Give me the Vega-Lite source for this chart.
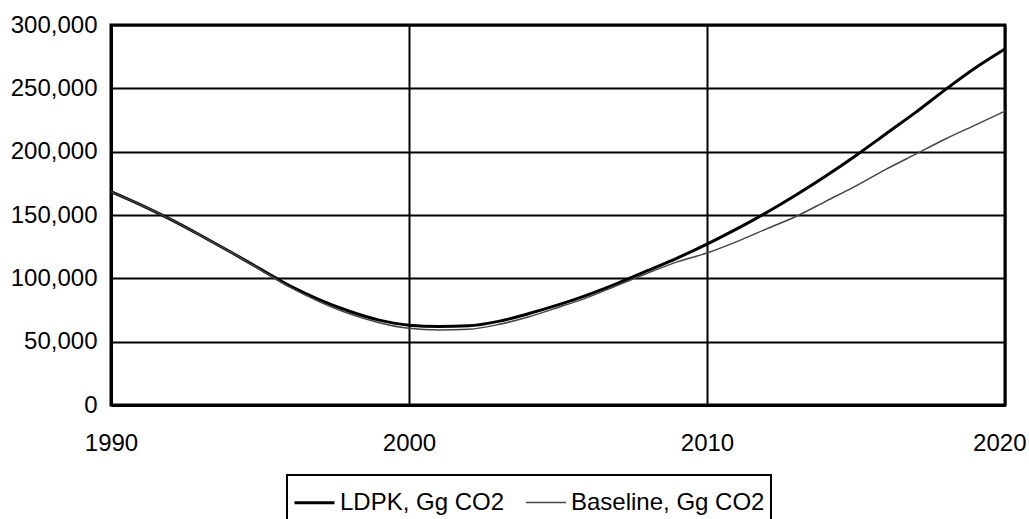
{
  "$schema": "https://vega.github.io/schema/vega-lite/v6.json",
  "width": 894,
  "height": 380,
  "autosize": {"type": "none"},
  "padding": {"left": 111, "top": 25, "right": 24, "bottom": 114},
  "background": "white",
  "config": {
    "font": "Liberation Sans",
    "view": {"stroke": "black", "strokeWidth": 3},
    "axis": {
      "labelFont": "Liberation Sans",
      "labelFontSize": 24,
      "labelColor": "black",
      "ticks": false,
      "grid": true,
      "gridColor": "black",
      "gridWidth": 2,
      "gridOpacity": 1,
      "domainColor": "black",
      "domainWidth": 3,
      "title": null
    }
  },
  "data": {
    "values": [
      {"year": 1990, "series": "LDPK, Gg CO2", "value": 168500},
      {"year": 1991, "series": "LDPK, Gg CO2", "value": 158000},
      {"year": 1992, "series": "LDPK, Gg CO2", "value": 146500},
      {"year": 1993, "series": "LDPK, Gg CO2", "value": 134000},
      {"year": 1994, "series": "LDPK, Gg CO2", "value": 121000},
      {"year": 1995, "series": "LDPK, Gg CO2", "value": 107500},
      {"year": 1996, "series": "LDPK, Gg CO2", "value": 94000},
      {"year": 1997, "series": "LDPK, Gg CO2", "value": 83000},
      {"year": 1998, "series": "LDPK, Gg CO2", "value": 74000},
      {"year": 1999, "series": "LDPK, Gg CO2", "value": 67000},
      {"year": 2000, "series": "LDPK, Gg CO2", "value": 63000},
      {"year": 2001, "series": "LDPK, Gg CO2", "value": 62000},
      {"year": 2002, "series": "LDPK, Gg CO2", "value": 62500},
      {"year": 2003, "series": "LDPK, Gg CO2", "value": 66000},
      {"year": 2004, "series": "LDPK, Gg CO2", "value": 72000},
      {"year": 2005, "series": "LDPK, Gg CO2", "value": 79000},
      {"year": 2006, "series": "LDPK, Gg CO2", "value": 87000},
      {"year": 2007, "series": "LDPK, Gg CO2", "value": 96000},
      {"year": 2008, "series": "LDPK, Gg CO2", "value": 106000},
      {"year": 2009, "series": "LDPK, Gg CO2", "value": 116000},
      {"year": 2010, "series": "LDPK, Gg CO2", "value": 127000},
      {"year": 2011, "series": "LDPK, Gg CO2", "value": 139000},
      {"year": 2012, "series": "LDPK, Gg CO2", "value": 152000},
      {"year": 2013, "series": "LDPK, Gg CO2", "value": 166000},
      {"year": 2014, "series": "LDPK, Gg CO2", "value": 181000},
      {"year": 2015, "series": "LDPK, Gg CO2", "value": 197000},
      {"year": 2016, "series": "LDPK, Gg CO2", "value": 214000},
      {"year": 2017, "series": "LDPK, Gg CO2", "value": 231000},
      {"year": 2018, "series": "LDPK, Gg CO2", "value": 249000},
      {"year": 2019, "series": "LDPK, Gg CO2", "value": 266000},
      {"year": 2020, "series": "LDPK, Gg CO2", "value": 281000},
      {"year": 1990, "series": "Baseline, Gg CO2", "value": 168500},
      {"year": 1991, "series": "Baseline, Gg CO2", "value": 158000},
      {"year": 1992, "series": "Baseline, Gg CO2", "value": 146500},
      {"year": 1993, "series": "Baseline, Gg CO2", "value": 134000},
      {"year": 1994, "series": "Baseline, Gg CO2", "value": 121000},
      {"year": 1995, "series": "Baseline, Gg CO2", "value": 107000},
      {"year": 1996, "series": "Baseline, Gg CO2", "value": 93000},
      {"year": 1997, "series": "Baseline, Gg CO2", "value": 81500},
      {"year": 1998, "series": "Baseline, Gg CO2", "value": 72000},
      {"year": 1999, "series": "Baseline, Gg CO2", "value": 65000},
      {"year": 2000, "series": "Baseline, Gg CO2", "value": 60500},
      {"year": 2001, "series": "Baseline, Gg CO2", "value": 59200},
      {"year": 2002, "series": "Baseline, Gg CO2", "value": 59800},
      {"year": 2003, "series": "Baseline, Gg CO2", "value": 63500},
      {"year": 2004, "series": "Baseline, Gg CO2", "value": 69500},
      {"year": 2005, "series": "Baseline, Gg CO2", "value": 77000},
      {"year": 2006, "series": "Baseline, Gg CO2", "value": 85000},
      {"year": 2007, "series": "Baseline, Gg CO2", "value": 94500},
      {"year": 2008, "series": "Baseline, Gg CO2", "value": 104000},
      {"year": 2009, "series": "Baseline, Gg CO2", "value": 113000},
      {"year": 2010, "series": "Baseline, Gg CO2", "value": 120000},
      {"year": 2011, "series": "Baseline, Gg CO2", "value": 129000},
      {"year": 2012, "series": "Baseline, Gg CO2", "value": 139000},
      {"year": 2013, "series": "Baseline, Gg CO2", "value": 149000},
      {"year": 2014, "series": "Baseline, Gg CO2", "value": 161000},
      {"year": 2015, "series": "Baseline, Gg CO2", "value": 173000},
      {"year": 2016, "series": "Baseline, Gg CO2", "value": 186000},
      {"year": 2017, "series": "Baseline, Gg CO2", "value": 198000},
      {"year": 2018, "series": "Baseline, Gg CO2", "value": 210000},
      {"year": 2019, "series": "Baseline, Gg CO2", "value": 221000},
      {"year": 2020, "series": "Baseline, Gg CO2", "value": 232000}
    ]
  },
  "mark": {"type": "line", "interpolate": "monotone"},
  "encoding": {
    "x": {
      "field": "year",
      "type": "quantitative",
      "scale": {"domain": [1990, 2020], "nice": false, "zero": false},
      "axis": {
        "values": [1990, 2000, 2010, 2020],
        "format": "d",
        "labelPadding": 26,
        "labelFlush": false,
        "labelAlign": {"expr": "datum.value == 2020 ? 'right' : 'center'"},
        "labelOffset": {"expr": "datum.value == 2020 ? 21 : 0"}
      }
    },
    "y": {
      "field": "value",
      "type": "quantitative",
      "scale": {"domain": [0, 300000], "nice": false},
      "axis": {"values": [0, 50000, 100000, 150000, 200000, 250000, 300000], "format": ",d", "labelPadding": 14}
    },
    "color": {
      "field": "series",
      "type": "nominal",
      "scale": {"domain": ["LDPK, Gg CO2", "Baseline, Gg CO2"], "range": ["#000000", "#444444"]},
      "legend": {
        "title": null,
        "orient": "none",
        "legendX": 176,
        "legendY": 450,
        "direction": "horizontal",
        "symbolType": "stroke",
        "symbolSize": 1600,
        "symbolStrokeColor": "black",
        "labelFontSize": 24,
        "labelFont": "Liberation Sans",
        "labelColor": "black",
        "labelLimit": 400,
        "labelOffset": 4,
        "columnPadding": 18,
        "padding": 6,
        "strokeColor": "black",
        "fillColor": "white",
        "encode": {
          "legend": {"update": {"strokeWidth": {"value": 2}}}
        }
      }
    },
    "strokeWidth": {
      "field": "series",
      "type": "nominal",
      "scale": {"domain": ["LDPK, Gg CO2", "Baseline, Gg CO2"], "range": [3, 1.5]},
      "legend": null
    }
  }
}
